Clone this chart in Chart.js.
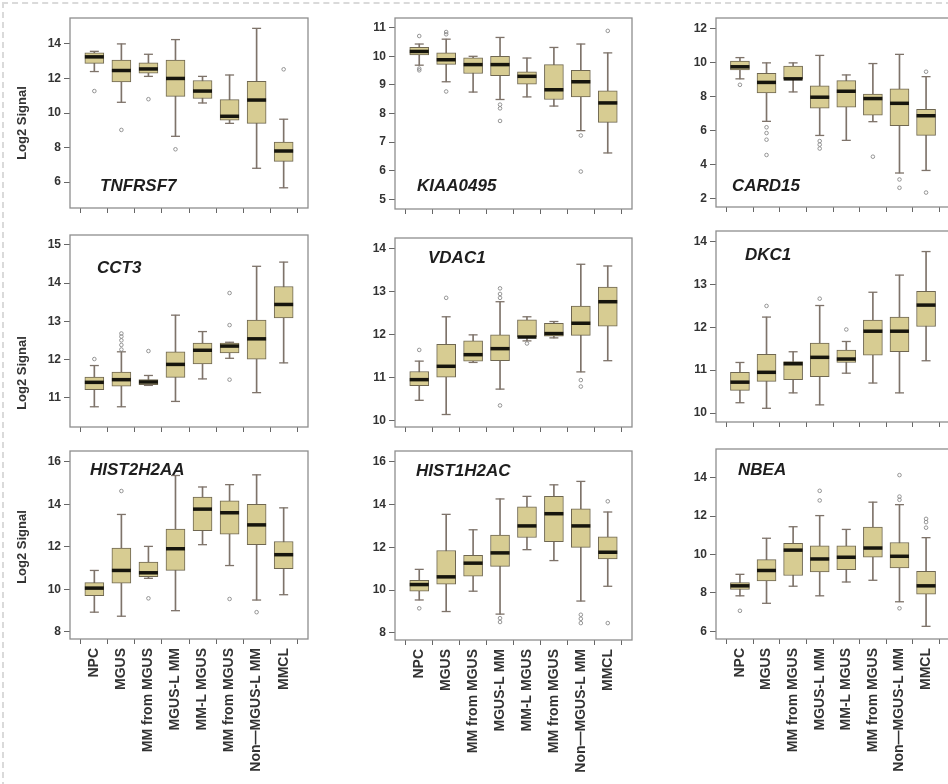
<!DOCTYPE html>
<html>
<head>
<meta charset="utf-8">
<script src="https://cdn.jsdelivr.net/npm/chart.js@4.4.0/dist/chart.umd.min.js"></script>
<style>
  html, body { margin: 0; padding: 0; background: #fff; width: 948px; height: 784px; overflow: hidden; }
  #page { position: relative; width: 948px; height: 784px; }
  #page canvas { position: absolute; }
  .scan { position: absolute; left: 2px; top: 2px; right: -4px; bottom: -4px;
          border-top: 2px dashed #dadada; border-left: 2px dashed #dadada; }
</style>
</head>
<body>
<div id="page"><div class="scan"></div></div>
<script>
// ── DATA ──────────────────────────────────────────────────────
const CATS = ['NPC', 'MGUS', 'MM from MGUS', 'MGUS-L MM', 'MM-L MGUS', 'MM from MGUS', 'Non—MGUS-L MM', 'MMCL'];

// each gene: whisker low, Q1, median, Q3, whisker high, outliers [category, value], y ticks
const TNFRSF7_LOW  = [12.4, 10.62, 12.12, 8.65, 10.58, 9.4, 6.8, 5.67];
const TNFRSF7_Q1   = [12.87, 11.8, 12.3, 10.96, 10.84, 9.58, 9.4, 7.2];
const TNFRSF7_MED  = [13.25, 12.46, 12.55, 12.0, 11.27, 9.81, 10.75, 7.8];
const TNFRSF7_Q3   = [13.49, 13.06, 12.9, 13.06, 11.88, 10.77, 11.84, 8.32];
const TNFRSF7_HIGH = [13.57, 14.0, 13.4, 14.25, 12.12, 12.2, 14.9, 9.64];
const TNFRSF7_OUT  = [[0, 11.27], [1, 9.02], [2, 10.8], [3, 7.9], [7, 12.53]];
const TNFRSF7_TICKS = [6, 8, 10, 12, 14];

const KIAA0495_LOW  = [9.69, 9.11, 8.75, 8.49, 8.58, 8.26, 7.4, 6.62];
const KIAA0495_Q1   = [10.05, 9.72, 9.4, 9.32, 9.03, 8.49, 8.58, 7.69];
const KIAA0495_MED  = [10.17, 9.88, 9.71, 9.71, 9.3, 8.83, 9.11, 8.37];
const KIAA0495_Q3   = [10.31, 10.12, 9.95, 10.0, 9.46, 9.71, 9.51, 8.79];
const KIAA0495_HIGH = [10.43, 10.6, 10.0, 10.66, 9.94, 10.31, 10.43, 10.12];
const KIAA0495_OUT  = [[0, 10.71], [0, 9.57], [0, 9.51], [1, 10.85], [1, 10.77], [1, 8.77],
                       [3, 8.31], [3, 8.18], [3, 7.74], [6, 7.23], [6, 5.97], [7, 10.89]];
const KIAA0495_TICKS = [5, 6, 7, 8, 9, 10, 11];

const CARD15_LOW  = [9.04, 6.54, 8.27, 5.71, 5.42, 6.52, 3.5, 3.65];
const CARD15_Q1   = [9.56, 8.21, 9.04, 7.31, 7.38, 6.9, 6.29, 5.71];
const CARD15_MED  = [9.75, 8.83, 9.04, 7.96, 8.31, 7.88, 7.6, 6.87];
const CARD15_Q3   = [10.08, 9.37, 9.79, 8.63, 8.94, 8.15, 8.46, 7.25];
const CARD15_HIGH = [10.29, 9.98, 9.98, 10.42, 9.27, 9.94, 10.48, 9.17];
const CARD15_OUT  = [[0, 8.69], [1, 6.19], [1, 5.85], [1, 5.46], [1, 4.56], [3, 5.38], [3, 5.17],
                     [3, 4.94], [5, 4.46], [6, 3.12], [6, 2.63], [7, 9.46], [7, 2.35]];
const CARD15_TICKS = [2, 4, 6, 8, 10, 12];

const CCT3_LOW  = [10.76, 10.76, 11.32, 10.9, 11.49, 12.03, 11.13, 11.91];
const CCT3_Q1   = [11.21, 11.3, 11.34, 11.53, 11.88, 12.17, 12.01, 13.09];
const CCT3_MED  = [11.4, 11.47, 11.41, 11.87, 12.24, 12.35, 12.54, 13.44];
const CCT3_Q3   = [11.54, 11.67, 11.47, 12.2, 12.43, 12.43, 13.03, 13.91];
const CCT3_HIGH = [11.84, 12.2, 11.58, 13.16, 12.73, 12.45, 14.44, 14.55];
const CCT3_OUT  = [[0, 12.01], [1, 12.68], [1, 12.6], [1, 12.5], [1, 12.38], [1, 12.26],
                   [2, 12.22], [5, 13.74], [5, 12.9], [5, 11.47]];
const CCT3_TICKS = [11, 12, 13, 14, 15];

const VDAC1_LOW  = [10.48, 10.15, 11.36, 10.74, 11.86, 11.93, 11.14, 11.4];
const VDAC1_Q1   = [10.82, 11.02, 11.39, 11.4, 11.95, 11.97, 11.99, 12.2];
const VDAC1_MED  = [10.96, 11.27, 11.54, 11.68, 11.95, 12.03, 12.27, 12.77];
const VDAC1_Q3   = [11.15, 11.78, 11.86, 12.0, 12.35, 12.27, 12.67, 13.11];
const VDAC1_HIGH = [11.39, 12.42, 12.0, 12.77, 12.42, 12.31, 13.64, 13.6];
const VDAC1_OUT  = [[0, 11.65], [1, 12.86], [3, 13.08], [3, 12.95], [3, 12.86], [3, 10.36],
                    [4, 11.8], [6, 10.95], [6, 10.8]];
const VDAC1_TICKS = [10, 11, 12, 13, 14];

const DKC1_LOW  = [10.24, 10.11, 10.47, 10.19, 10.93, 10.7, 10.47, 11.22];
const DKC1_Q1   = [10.53, 10.74, 10.78, 10.85, 11.18, 11.35, 11.43, 12.02];
const DKC1_MED  = [10.72, 10.95, 11.15, 11.3, 11.26, 11.91, 11.91, 12.52];
const DKC1_Q3   = [10.95, 11.37, 11.2, 11.63, 11.47, 12.17, 12.24, 12.84];
const DKC1_HIGH = [11.18, 12.24, 11.43, 12.51, 11.67, 12.82, 13.22, 13.77];
const DKC1_OUT  = [[1, 12.5], [3, 12.67], [4, 11.95]];
const DKC1_TICKS = [10, 11, 12, 13, 14];

const HIST2H2AA_LOW  = [8.93, 8.74, 10.52, 9.0, 12.1, 11.12, 9.5, 9.75];
const HIST2H2AA_Q1   = [9.7, 10.29, 10.6, 10.89, 12.76, 12.59, 12.1, 10.97];
const HIST2H2AA_MED  = [10.06, 10.89, 10.78, 11.91, 13.77, 13.6, 13.03, 11.63];
const HIST2H2AA_Q3   = [10.32, 11.94, 11.28, 12.83, 14.34, 14.16, 13.99, 12.25];
const HIST2H2AA_HIGH = [10.89, 13.52, 12.02, 15.35, 14.81, 14.92, 15.38, 13.83];
const HIST2H2AA_OUT  = [[1, 14.62], [2, 9.58], [5, 9.55], [6, 8.93]];
const HIST2H2AA_TICKS = [8, 10, 12, 14, 16];

const HIST1H2AC_LOW  = [9.54, 9.0, 9.95, 8.88, 11.89, 11.38, 9.49, 10.18];
const HIST1H2AC_Q1   = [9.95, 10.28, 10.65, 11.11, 12.46, 12.26, 12.0, 11.46];
const HIST1H2AC_MED  = [10.26, 10.62, 11.26, 11.74, 13.0, 13.57, 13.0, 11.77];
const HIST1H2AC_Q3   = [10.46, 11.85, 11.62, 12.57, 13.89, 14.38, 13.8, 12.49];
const HIST1H2AC_HIGH = [10.97, 13.54, 12.82, 14.26, 14.38, 14.92, 15.08, 13.65];
const HIST1H2AC_OUT  = [[0, 9.15], [3, 8.69], [3, 8.51], [6, 8.85], [6, 8.66], [6, 8.46],
                        [7, 14.15], [7, 8.46]];
const HIST1H2AC_TICKS = [8, 10, 12, 14, 16];

const NBEA_LOW  = [7.85, 7.46, 8.35, 7.85, 8.57, 8.66, 7.54, 6.26];
const NBEA_Q1   = [8.18, 8.62, 8.91, 9.09, 9.21, 9.86, 9.31, 7.94];
const NBEA_MED  = [8.37, 9.17, 10.23, 9.77, 9.86, 10.34, 9.91, 8.37];
const NBEA_Q3   = [8.54, 9.74, 10.58, 10.46, 10.46, 11.43, 10.63, 9.12];
const NBEA_HIGH = [8.97, 10.85, 11.45, 12.03, 11.31, 12.73, 12.6, 10.88];
const NBEA_OUT  = [[0, 7.07], [3, 13.32], [3, 12.82], [6, 14.14], [6, 13.02], [6, 12.85],
                   [6, 7.2], [7, 11.86], [7, 11.69], [7, 11.4]];
const NBEA_TICKS = [6, 8, 10, 12, 14];

// ── STYLE ─────────────────────────────────────────────────────
const BOX      = '#d7cc92';
const BOX_EDGE = '#6f6751';
const WHISK    = '#7e736a';
const MEDIAN   = '#16150d';
const OUTLIER  = '#8a8a8a';
const FRAME    = '#8e8e8e';
const TEXT     = '#333333';
const FONT     = "'Liberation Sans', Arial, sans-serif";
const YW = 40;   // y axis width
const LM = 70, TM = 10, RM = 8;

// panel layout: plot box [left, top, right, bottom], y range, gene label offset, y title centre
const PANELS = [
  { gene: 'TNFRSF7',  row: 0, col: 0, box: [70, 15, 313, 209],  y: [4.5, 15.5],   name: [30, 168], yl: 123,
    d: [TNFRSF7_LOW, TNFRSF7_Q1, TNFRSF7_MED, TNFRSF7_Q3, TNFRSF7_HIGH, TNFRSF7_OUT, TNFRSF7_TICKS] },
  { gene: 'KIAA0495', row: 0, col: 1, box: [395, 15, 637, 210], y: [4.66, 11.34], name: [22, 168],
    d: [KIAA0495_LOW, KIAA0495_Q1, KIAA0495_MED, KIAA0495_Q3, KIAA0495_HIGH, KIAA0495_OUT, KIAA0495_TICKS] },
  { gene: 'CARD15',   row: 0, col: 2, box: [716, 15, 955, 208], y: [1.5, 12.62],  name: [16, 168],
    d: [CARD15_LOW, CARD15_Q1, CARD15_MED, CARD15_Q3, CARD15_HIGH, CARD15_OUT, CARD15_TICKS] },
  { gene: 'CCT3',     row: 1, col: 0, box: [70, 232, 313, 428], y: [10.23, 15.26], name: [27, 33], yl: 373,
    d: [CCT3_LOW, CCT3_Q1, CCT3_MED, CCT3_Q3, CCT3_HIGH, CCT3_OUT, CCT3_TICKS] },
  { gene: 'VDAC1',    row: 1, col: 1, box: [395, 235, 637, 428], y: [9.86, 14.25], name: [33, 20],
    d: [VDAC1_LOW, VDAC1_Q1, VDAC1_MED, VDAC1_Q3, VDAC1_HIGH, VDAC1_OUT, VDAC1_TICKS] },
  { gene: 'DKC1',     row: 1, col: 2, box: [716, 228, 955, 423], y: [9.79, 14.25], name: [29, 24],
    d: [DKC1_LOW, DKC1_Q1, DKC1_MED, DKC1_Q3, DKC1_HIGH, DKC1_OUT, DKC1_TICKS] },
  { gene: 'HIST2H2AA', row: 2, col: 0, box: [70, 448, 313, 639], y: [7.67, 16.5], name: [20, 19], yl: 547,
    d: [HIST2H2AA_LOW, HIST2H2AA_Q1, HIST2H2AA_MED, HIST2H2AA_Q3, HIST2H2AA_HIGH, HIST2H2AA_OUT, HIST2H2AA_TICKS] },
  { gene: 'HIST1H2AC', row: 2, col: 1, box: [395, 448, 637, 640], y: [7.67, 16.5], name: [21, 20],
    d: [HIST1H2AC_LOW, HIST1H2AC_Q1, HIST1H2AC_MED, HIST1H2AC_Q3, HIST1H2AC_HIGH, HIST1H2AC_OUT, HIST1H2AC_TICKS] },
  { gene: 'NBEA',     row: 2, col: 2, box: [716, 446, 955, 639], y: [5.6, 15.5],  name: [22, 21],
    d: [NBEA_LOW, NBEA_Q1, NBEA_MED, NBEA_Q3, NBEA_HIGH, NBEA_OUT, NBEA_TICKS] },
];

// ── FRAME + LABELS PLUGIN ─────────────────────────────────────
const panelDeco = {
  id: 'panelDeco',
  beforeDatasetsDraw(chart, args, opts) {
    const { ctx, chartArea: a } = chart;
    ctx.save();
    ctx.strokeStyle = FRAME;
    ctx.lineWidth = 1.3;
    ctx.strokeRect(a.left, a.top, a.right - a.left, a.bottom - a.top);
    ctx.restore();
  },
  afterDraw(chart, args, opts) {
    const { ctx, chartArea: a } = chart;
    ctx.save();
    ctx.fillStyle = '#1e1e1e';
    ctx.font = "italic bold 17px " + FONT;
    ctx.textBaseline = 'middle';
    ctx.textAlign = 'left';
    ctx.fillText(opts.gene, a.left + opts.nx, a.top + opts.ny);
    if (opts.yl) {
      ctx.translate(22 - opts.canvasLeft, opts.yl - opts.canvasTop);
      ctx.rotate(-Math.PI / 2);
      ctx.textAlign = 'center';
      ctx.font = "bold 13px " + FONT;
      ctx.fillStyle = TEXT;
      ctx.fillText('Log2 Signal', 0, 0);
    }
    ctx.restore();
  }
};

// ── BUILD ONE PANEL ───────────────────────────────────────────
function makePanel(p) {
  const [L, T, R, B] = p.box;
  const [low, q1, med, q3, high, out, ticks] = p.d;
  const showLabels = p.row === 2;
  const xh = showLabels ? 140 : 12;
  const w = LM + (R - L) + RM, h = TM + (B - T) + xh;

  const cv = document.createElement('canvas');
  cv.width = w; cv.height = h;
  cv.style.width = w + 'px'; cv.style.height = h + 'px';
  cv.style.left = (L - LM) + 'px'; cv.style.top = (T - TM) + 'px';
  document.getElementById('page').appendChild(cv);

  const idx = CATS.map((c, i) => i);
  const tickFont = { family: FONT, size: 12, weight: 'bold' };

  new Chart(cv, {
    type: 'bar',
    data: {
      datasets: [
        { // whisker stems
          type: 'bar', order: 4, grouped: false,
          data: idx.map(i => ({ x: i, y: [low[i], high[i]] })),
          backgroundColor: WHISK, barThickness: 1,
        },
        { // boxes
          type: 'bar', order: 3, grouped: false,
          data: idx.map(i => ({ x: i, y: [q1[i], q3[i]] })),
          backgroundColor: BOX, borderColor: BOX_EDGE, borderWidth: 1,
          borderSkipped: false, barThickness: 19,
        },
        { // whisker caps
          type: 'scatter', order: 2,
          data: idx.flatMap(i => [{ x: i, y: low[i] }, { x: i, y: high[i] }]),
          pointStyle: 'line', radius: 4.5, borderColor: WHISK, borderWidth: 1.3,
        },
        { // medians
          type: 'scatter', order: 1,
          data: idx.map(i => ({ x: i, y: med[i] })),
          pointStyle: 'line', radius: 9.5, borderColor: MEDIAN, borderWidth: 3.5,
        },
        { // outliers
          type: 'scatter', order: 0,
          data: out.map(o => ({ x: o[0], y: o[1] })),
          pointStyle: 'circle', radius: 1.8, borderColor: OUTLIER, borderWidth: 0.9,
          backgroundColor: 'rgba(0,0,0,0)',
        },
      ]
    },
    options: {
      responsive: false,
      animation: false,
      events: [],
      layout: { padding: { left: LM - YW, top: TM, right: RM, bottom: 0 } },
      plugins: {
        legend: { display: false },
        tooltip: { enabled: false },
        panelDeco: { gene: p.gene, nx: p.name[0], ny: p.name[1], yl: p.yl,
                     canvasLeft: L - LM, canvasTop: T - TM },
      },
      scales: {
        x: {
          type: 'linear', min: -0.9, max: 7.9, offset: false,
          afterBuildTicks: s => { s.ticks = idx.map(i => ({ value: i })); },
          afterFit: s => { s.height = xh; },
          grid: { drawOnChartArea: false, tickLength: 5, color: '#666' },
          border: { display: false },
          ticks: {
            autoSkip: false,
            minRotation: showLabels ? 90 : 0, maxRotation: showLabels ? 90 : 0,
            padding: 4, color: TEXT,
            font: { family: FONT, size: 14, weight: 'bold' },
            callback: v => showLabels ? CATS[v] : '',
          }
        },
        y: {
          type: 'linear', min: p.y[0], max: p.y[1],
          afterBuildTicks: s => { s.ticks = ticks.map(v => ({ value: v })); },
          afterFit: s => { s.width = YW; },
          grid: { drawOnChartArea: false, tickLength: 6, color: '#666' },
          border: { display: false },
          ticks: { font: tickFont, color: TEXT, padding: 3 }
        }
      }
    },
    plugins: [panelDeco]
  });
}

PANELS.forEach(makePanel);
</script>
</body>
</html>
